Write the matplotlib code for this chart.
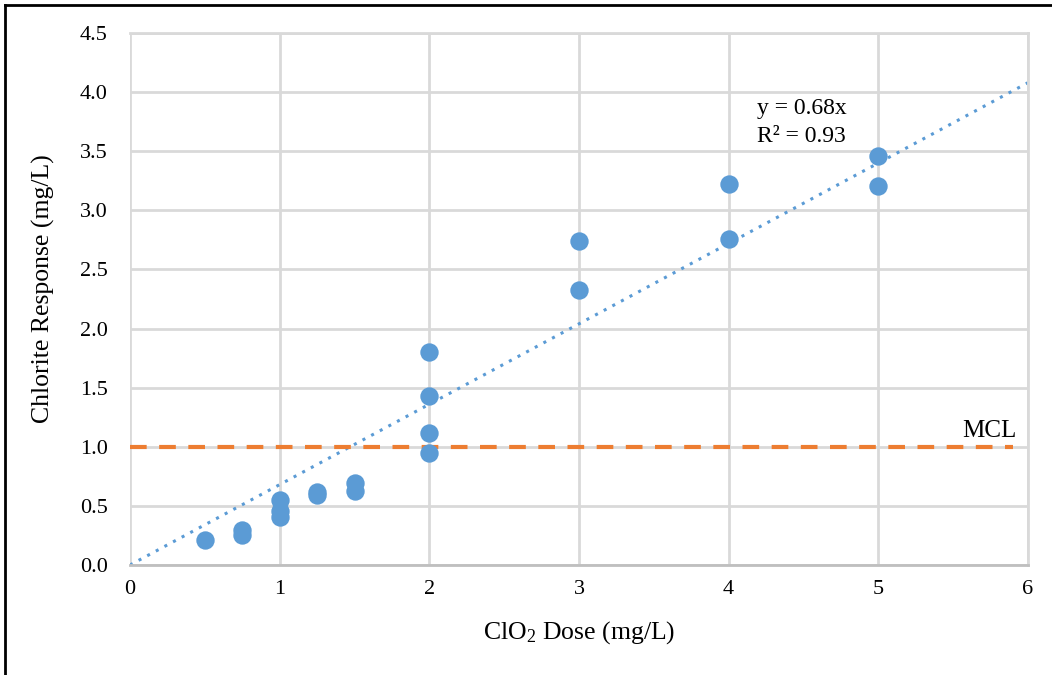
import matplotlib.pyplot as plt
from matplotlib.lines import Line2D

# dose (mg/L) and measured chlorite (mg/L)
dose = [0.5, 0.75, 0.75, 1, 1, 1, 1.25, 1.25, 1.5, 1.5,
        2, 2, 2, 2, 3, 3, 4, 4, 5, 5]
chlorite = [0.21, 0.30, 0.25, 0.55, 0.46, 0.41, 0.62, 0.59, 0.69, 0.63,
            1.80, 1.43, 1.12, 0.95, 2.74, 2.33, 3.22, 2.76, 3.46, 3.21]

slope = 0.68
trend_x = [0, 6]
mcl = 1.0
mcl_x = [0, 5.9]

x_ticks = [0, 1, 2, 3, 4, 5, 6]
y_ticks = [0.0, 0.5, 1.0, 1.5, 2.0, 2.5, 3.0, 3.5, 4.0, 4.5]

blue = '#5b9bd5'
orange = '#ed7d31'
grid_c = '#d9d9d9'

plt.rcParams['font.family'] = ['Liberation Serif', 'DejaVu Serif']
plt.rcParams['mathtext.fontset'] = 'custom'
plt.rcParams['mathtext.rm'] = 'Liberation Serif'
plt.rcParams['mathtext.it'] = 'Liberation Serif:italic'

fig = plt.figure(figsize=(10.52, 6.75), dpi=100)
ax = fig.add_axes([130 / 1052, 1 - 565 / 675, 898 / 1052, 532 / 675])

ax.plot(trend_x, [slope * v for v in trend_x], linestyle=(0, (1, 2.2)),
        color=blue, linewidth=2.2, zorder=2)
ax.plot(mcl_x, [mcl, mcl], linestyle=(0, (4, 3)), color=orange,
        linewidth=3.0, zorder=2)
ax.scatter(dose, chlorite, s=175, color=blue, zorder=3, linewidths=0)

ax.set_xlim(0, 6)
ax.set_ylim(0, 4.5)
ax.set_xticks(x_ticks)
ax.set_yticks(y_ticks)
ax.set_yticklabels([f'{v:.1f}' for v in y_ticks])
ax.grid(True, color=grid_c, linewidth=2.0, zorder=0)
ax.set_axisbelow(True)
for name, sp in ax.spines.items():
    sp.set_color(grid_c)
    sp.set_linewidth(2.0)
ax.spines['bottom'].set_color('#bfbfbf')
ax.spines['left'].set_visible(False)
ax.tick_params(length=0, labelsize=16)
ax.tick_params(axis='y', pad=16)
ax.tick_params(axis='x', pad=11)

ax.set_xlabel(r'ClO$_\mathrm{2}$ Dose (mg/L)', fontsize=18.5, labelpad=14)
ax.set_ylabel('Chlorite Response (mg/L)', fontsize=18.5)
ax.yaxis.set_label_coords(-0.084, 0.52)

ax.text(4.19, 3.745, 'y = 0.68x\nR² = 0.93', fontsize=17, va='center',
        ha='left', linespacing=1.45)
ax.text(5.92, 1.04, 'MCL', fontsize=18, ha='right', va='bottom')

# outer frame (top and left edges only show)
fig.add_artist(Line2D([5 / 1052, 1], [1 - 5 / 675, 1 - 5 / 675],
                      transform=fig.transFigure, color='black', linewidth=2))
fig.add_artist(Line2D([5 / 1052, 5 / 1052], [0, 1 - 5 / 675],
                      transform=fig.transFigure, color='black', linewidth=2))

fig.savefig('out.png', dpi=100)
